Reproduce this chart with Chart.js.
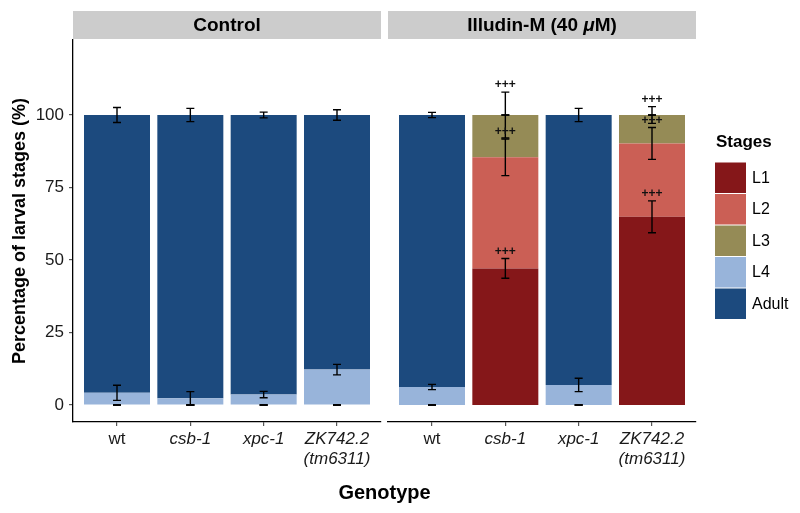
<!DOCTYPE html>
<html>
<head>
<meta charset="utf-8">
<script src="https://cdn.jsdelivr.net/npm/chart.js@4"></script>
<style>
  body { margin: 0; background: #fff; }
  #wrap { position: relative; width: 800px; height: 513px; }
  #wrap canvas { position: absolute; left: 0; top: 0; }
</style>
</head>
<body>
<div id="wrap">
  <canvas id="controlChart" width="800" height="513"></canvas>
  <canvas id="illudinChart" width="800" height="513"></canvas>
</div>
<script>
const fontFamily = "'Liberation Sans', Arial, sans-serif";

const genotypes = ["wt", "csb-1", "xpc-1", ["ZK742.2", "(tm6311)"]];
const stages = ["L1", "L2", "L3", "L4", "Adult"];
const stageColors = ["#851719", "#CB5F55", "#958B56", "#98B4DA", "#1C4A7E"];
const yTicks = [0, 25, 50, 75, 100];

// Control: mean % per stage for wt, csb-1, xpc-1, ZK742.2
const controlL1 = [0, 0, 0, 0];
const controlL2 = [0, 0, 0, 0];
const controlL3 = [0, 0, 0, 0];
const controlL4 = [4.2, 2.3, 3.6, 12.2];
const controlAdult = [95.8, 97.7, 96.4, 87.8];
const controlL4Sd = [2.6, 2.3, 1.1, 1.8];
const controlAdultSd = [2.6, 2.3, 1.0, 1.8];

// Illudin-M (40 uM)
const illudinL1 = [0, 47.1, 0, 64.9];
const illudinL2 = [0, 38.3, 0, 25.3];
const illudinL3 = [0, 14.6, 0, 9.8];
const illudinL4 = [6.2, 0, 6.9, 0];
const illudinAdult = [93.8, 0, 93.1, 0];
const illudinL1Sd = [0, 3.4, 0, 5.5];
const illudinL2Sd = [0, 6.3, 0, 5.5];
const illudinL3Sd = [0, 7.9, 0, 2.9];
const illudinL4Sd = [0.9, 0, 2.3, 0];
const illudinAdultSd = [0.9, 0, 2.3, 0];
const illudinSig = ["", "+++", "", "+++"]; // marks on L1, L2, L3

const zeroSd = [0, 0, 0, 0];
const noSig = ["", "", "", ""];

function buildDatasets(means, sds, sigs) {
    return stages.map((stage, s) => ({
        label: stage,
        data: means[s].map((v, i) => ({ x: i + 1, y: v })),
        backgroundColor: stageColors[s],
        borderWidth: 0,
        barPercentage: 0.9,
        categoryPercentage: 1.0,
        sd: sds[s],
        sig: sigs[s]
    }));
}

// strip header above each panel
const stripPlugin = {
    id: "strip",
    beforeDraw(chart, args, opts) {
        let ctx = chart.ctx;
        let a = chart.chartArea;
        ctx.save();
        ctx.fillStyle = "#CCCCCC";
        ctx.fillRect(a.left, 11, a.right - a.left, 28);
        ctx.fillStyle = "#000";
        ctx.font = "bold 19px " + fontFamily;
        ctx.textBaseline = "middle";
        let cx = (a.left + a.right) / 2;
        if (opts.italicPart) {
            // "Illudin-M (40 μM)" with italic mu
            let p1 = opts.text, p2 = opts.italicPart, p3 = opts.tail;
            let w1 = ctx.measureText(p1).width;
            let w3 = ctx.measureText(p3).width;
            ctx.font = "italic bold 19px " + fontFamily;
            let w2 = ctx.measureText(p2).width;
            let x = cx - (w1 + w2 + w3) / 2;
            ctx.textAlign = "left";
            ctx.font = "bold 19px " + fontFamily;
            ctx.fillText(p1, x, 26);
            ctx.font = "italic bold 19px " + fontFamily;
            ctx.fillText(p2, x + w1, 26);
            ctx.font = "bold 19px " + fontFamily;
            ctx.fillText(p3, x + w1 + w2, 26);
        } else {
            ctx.textAlign = "center";
            ctx.fillText(opts.text, cx, 26);
        }
        ctx.restore();
    }
};

// error bars on the cumulative stage positions, plus significance marks
const errorBarPlugin = {
    id: "errorBars",
    afterDatasetsDraw(chart) {
        let ctx = chart.ctx;
        let yScale = chart.scales.y;
        let xScale = chart.scales.x;
        let datasets = chart.data.datasets;
        ctx.save();
        ctx.strokeStyle = "#000";
        ctx.lineWidth = 1.4;
        let marks = [];
        datasets.forEach((ds, di) => {
            ds.data.forEach((pt, i) => {
                let cum = 0;
                for (let k = 0; k <= di; k++) cum += datasets[k].data[i].y;
                let sd = ds.sd[i];
                let x = xScale.getPixelForValue(pt.x);
                let yHi = yScale.getPixelForValue(cum + sd);
                let yLo = yScale.getPixelForValue(cum - sd);
                ctx.beginPath();
                ctx.moveTo(x, yHi); ctx.lineTo(x, yLo);
                ctx.moveTo(x - 4, yHi); ctx.lineTo(x + 4, yHi);
                ctx.moveTo(x - 4, yLo); ctx.lineTo(x + 4, yLo);
                ctx.stroke();
                if (ds.sig[i]) marks.push([ds.sig[i], x, yHi - 7]);
            });
        });
        ctx.fillStyle = "#111";
        ctx.font = "bold 12px " + fontFamily;
        ctx.textAlign = "center";
        ctx.textBaseline = "middle";
        marks.forEach(m => ctx.fillText(m[0], m[1], m[2]));
        ctx.restore();
    }
};

const genotypeTitlePlugin = {
    id: "genotypeTitle",
    afterDraw(chart) {
        let ctx = chart.ctx;
        ctx.save();
        ctx.fillStyle = "#000";
        ctx.font = "bold 20px " + fontFamily;
        ctx.textAlign = "center";
        ctx.textBaseline = "middle";
        ctx.fillText("Genotype", 384.5, 493);
        ctx.restore();
    }
};

const stageLegendPlugin = {
    id: "stageLegend",
    afterDraw(chart) {
        let ctx = chart.ctx;
        ctx.save();
        ctx.fillStyle = "#000";
        ctx.font = "bold 17px " + fontFamily;
        ctx.textAlign = "left";
        ctx.textBaseline = "middle";
        ctx.fillText("Stages", 716, 142);
        ctx.font = "16px " + fontFamily;
        chart.data.datasets.forEach((ds, i) => {
            let top = 162.5 + i * 31.5;
            ctx.fillStyle = ds.backgroundColor;
            ctx.fillRect(715, top, 31, 30.5);
            ctx.fillStyle = "#000";
            ctx.fillText(ds.label, 752, top + 16);
        });
        ctx.restore();
    }
};

function makePanel(id, datasets, showY, padding, strip, extraPlugins) {
    let ctx = document.getElementById(id).getContext("2d");
    return new Chart(ctx, {
        type: "bar",
        data: { datasets: datasets },
        plugins: [stripPlugin, errorBarPlugin].concat(extraPlugins),
        options: {
            responsive: false,
            animation: false,
            layout: { padding: padding },
            plugins: {
                legend: { display: false },
                tooltip: { enabled: false },
                strip: strip
            },
            scales: {
                x: {
                    type: "linear",
                    stacked: true,
                    offset: false,
                    min: 0.4,
                    max: 4.6,
                    afterBuildTicks: s => { s.ticks = [1, 2, 3, 4].map(v => ({ value: v })); },
                    afterFit: s => { s.height = 91; },
                    grid: { display: true, offset: false, drawOnChartArea: false, drawTicks: true, tickLength: 4, color: "#555", lineWidth: 1.2 },
                    border: { display: true, color: "#000", width: 1.3 },
                    ticks: {
                        callback: v => genotypes[v - 1],
                        color: "#1a1a1a",
                        padding: 3,
                        maxRotation: 0,
                        autoSkip: false,
                        font: c => ({ family: fontFamily, size: 17, style: c.index === 0 ? "normal" : "italic", lineHeight: 1.2 })
                    }
                },
                y: {
                    display: showY,
                    stacked: true,
                    min: -5.86,
                    max: 125.86,
                    afterBuildTicks: s => { s.ticks = yTicks.map(v => ({ value: v })); },
                    afterFit: s => { if (showY) s.width = 73; },
                    grid: { display: true, drawOnChartArea: false, drawTicks: true, tickLength: 4, color: "#555", lineWidth: 1.2 },
                    border: { display: true, color: "#000", width: 1.3 },
                    ticks: { color: "#1a1a1a", padding: 5, font: { family: fontFamily, size: 17 } },
                    title: {
                        display: true,
                        text: "Percentage of larval stages (%)",
                        color: "#000",
                        padding: { top: 9, bottom: 0 },
                        font: { family: fontFamily, size: 18, weight: "bold" }
                    }
                }
            }
        }
    });
}

makePanel("controlChart",
    buildDatasets([controlL1, controlL2, controlL3, controlL4, controlAdult],
        [zeroSd, zeroSd, zeroSd, controlL4Sd, controlAdultSd],
        [noSig, noSig, noSig, noSig, noSig]),
    true, { left: 0, right: 419, top: 40, bottom: 0 },
    { text: "Control" }, [genotypeTitlePlugin]);

makePanel("illudinChart",
    buildDatasets([illudinL1, illudinL2, illudinL3, illudinL4, illudinAdult],
        [illudinL1Sd, illudinL2Sd, illudinL3Sd, illudinL4Sd, illudinAdultSd],
        [illudinSig, illudinSig, illudinSig, noSig, noSig]),
    false, { left: 388, right: 104, top: 40, bottom: 0 },
    { text: "Illudin-M (40 ", italicPart: "μ", tail: "M)" }, [stageLegendPlugin]);
</script>
</body>
</html>
